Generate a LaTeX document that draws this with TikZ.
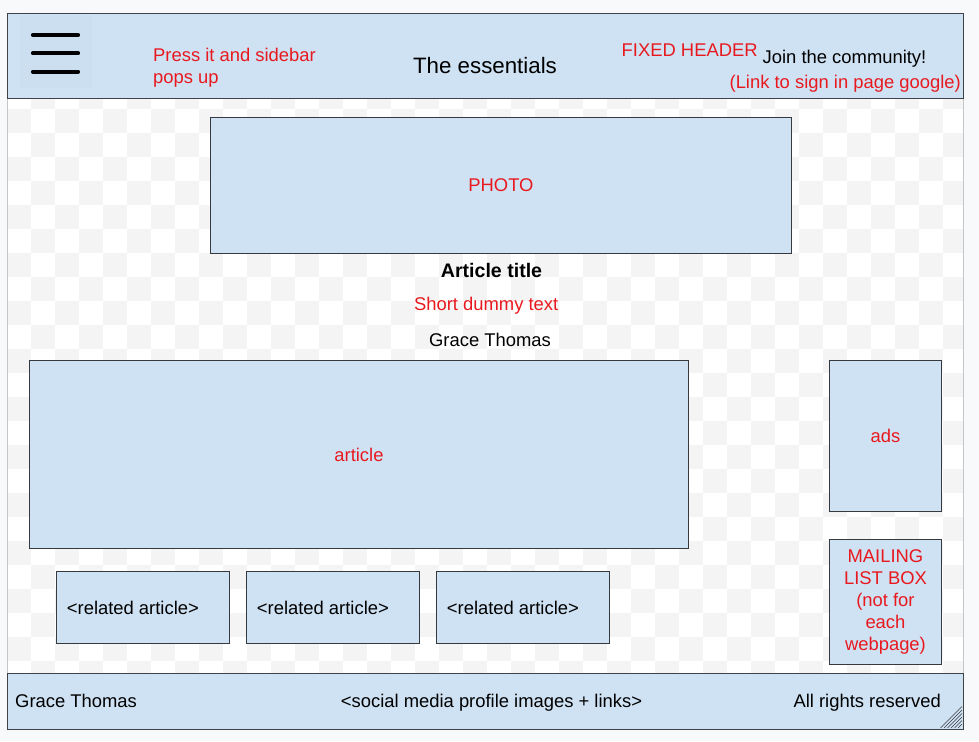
\documentclass[tikz,border=0pt]{standalone}
\usepackage{fontspec}
\setmainfont{Liberation Sans}
\definecolor{pagebg}{HTML}{F8F9FA}
\definecolor{checker}{HTML}{F4F4F4}
\definecolor{boxfill}{HTML}{CFE2F3}
\definecolor{iconbg}{HTML}{CCDFF0}
\definecolor{boxline}{HTML}{36393D}
\definecolor{barline}{HTML}{3F4347}
\definecolor{note}{HTML}{E8191E}
\definecolor{canvasline}{HTML}{C4C7CA}

\begin{document}
\begin{tikzpicture}[x=1pt,y=-1pt,
  box/.style={draw=boxline,fill=boxfill,line width=0.9pt,inner sep=0pt,
    anchor=north west,font=\fontsize{18.4}{21.8}\selectfont},
  bar/.style={draw=barline,fill=boxfill,line width=1.4pt,inner sep=0pt,anchor=north west},
  txt/.style={font=\fontsize{18.4}{22.5}\selectfont,inner sep=0pt,text=black},
  notetxt/.style={txt,text=note},
  burger/.style={line width=4.2pt,line cap=round,black}]

\useasboundingbox (0,0) rectangle (979,741);
\fill[pagebg] (0,0) rectangle (979,741);
\fill[white] (7,13) rectangle (963,729);

% transparent-canvas checkerboard behind the page body
\begin{scope}
  \clip (7,98) rectangle (963,673);
  \foreach \j in {0,...,24}{
    \pgfmathtruncatemacro\off{mod(\j+1,2)}
    \foreach \i in {0,2,...,40}{
      \fill[checker] ({7+24*(\i+\off)},{85+24*\j}) rectangle ++(24,24);
    }
  }
\end{scope}
\draw[canvasline,line width=0.8pt] (7,13) rectangle (963,729);

% fixed header
\node[bar,minimum width=956pt,minimum height=85pt] (header) at (7,13) {};
\fill[iconbg] (20,15) rectangle (92,88);
\draw[burger] (33,35) -- (78,35);
\draw[burger] (33,53.3) -- (78,53.3);
\draw[burger] (33,71.7) -- (78,71.7);
\node[notetxt,align=left,anchor=north west] (menunote) at (153,47.8) {Press it and sidebar\\pops up};
\node[txt,font=\fontsize{22.3}{26}\selectfont,anchor=base] (sitename) at (485,73.5) {The essentials};
\node[notetxt,anchor=base west] (headernote) at (621.5,57) {FIXED HEADER};
\node[txt,anchor=base west] (join) at (762.5,63.5) {Join the community!};
\node[notetxt,anchor=base east] (signin) at (961,89) {(Link to sign in page google)};

% main photo and article heading
\node[box,minimum width=581pt,minimum height=136pt,text=note] (photo) at (210,117) {PHOTO};
\node[txt,font=\fontsize{19.6}{23}\selectfont\bfseries,anchor=base] (title) at (491.5,277.3) {Article title};
\node[notetxt,anchor=base] (dummy) at (486.2,310) {Short dummy text};
\node[txt,anchor=base] (author) at (490,346) {Grace Thomas};

% article body and side column
\node[box,minimum width=659pt,minimum height=188pt,text=note] (article) at (29,360) {article};
\node[box,minimum width=112pt,minimum height=151pt,text=note] (ads) at (829,360) {ads};
\node[box,minimum width=112pt,minimum height=125pt,text=note,align=center] (mailing) at (829,539)
  {MAILING\\LIST BOX\\(not for\\each\\webpage)};

% related articles
\node[box,minimum width=173pt,minimum height=72pt] (rel1) at (56,571) {};
\node[box,minimum width=173pt,minimum height=72pt] (rel2) at (246,571) {};
\node[box,minimum width=173pt,minimum height=72pt] (rel3) at (436,571) {};
\node[txt,anchor=west] (rel1text) at ([xshift=10.7pt]rel1.west) {<related article>};
\node[txt,anchor=west] (rel2text) at ([xshift=10.7pt]rel2.west) {<related article>};
\node[txt,anchor=west] (rel3text) at ([xshift=10.7pt]rel3.west) {<related article>};

% footer
\node[bar,minimum width=956pt,minimum height=56pt] (footer) at (7,673) {};
\node[txt,anchor=base west] (footname) at (15,707.8) {Grace Thomas};
\node[txt,anchor=base] (social) at (491.5,707.8) {<social media profile images + links>};
\node[txt,anchor=base east] (rights) at (941,707.8) {All rights reserved};

% resize grip in the footer corner
\foreach \d in {4,7.5,...,22}{
  \draw[boxline,line width=0.6pt] (962-\d,728) -- (962,728-\d);
}
\end{tikzpicture}
\end{document}
